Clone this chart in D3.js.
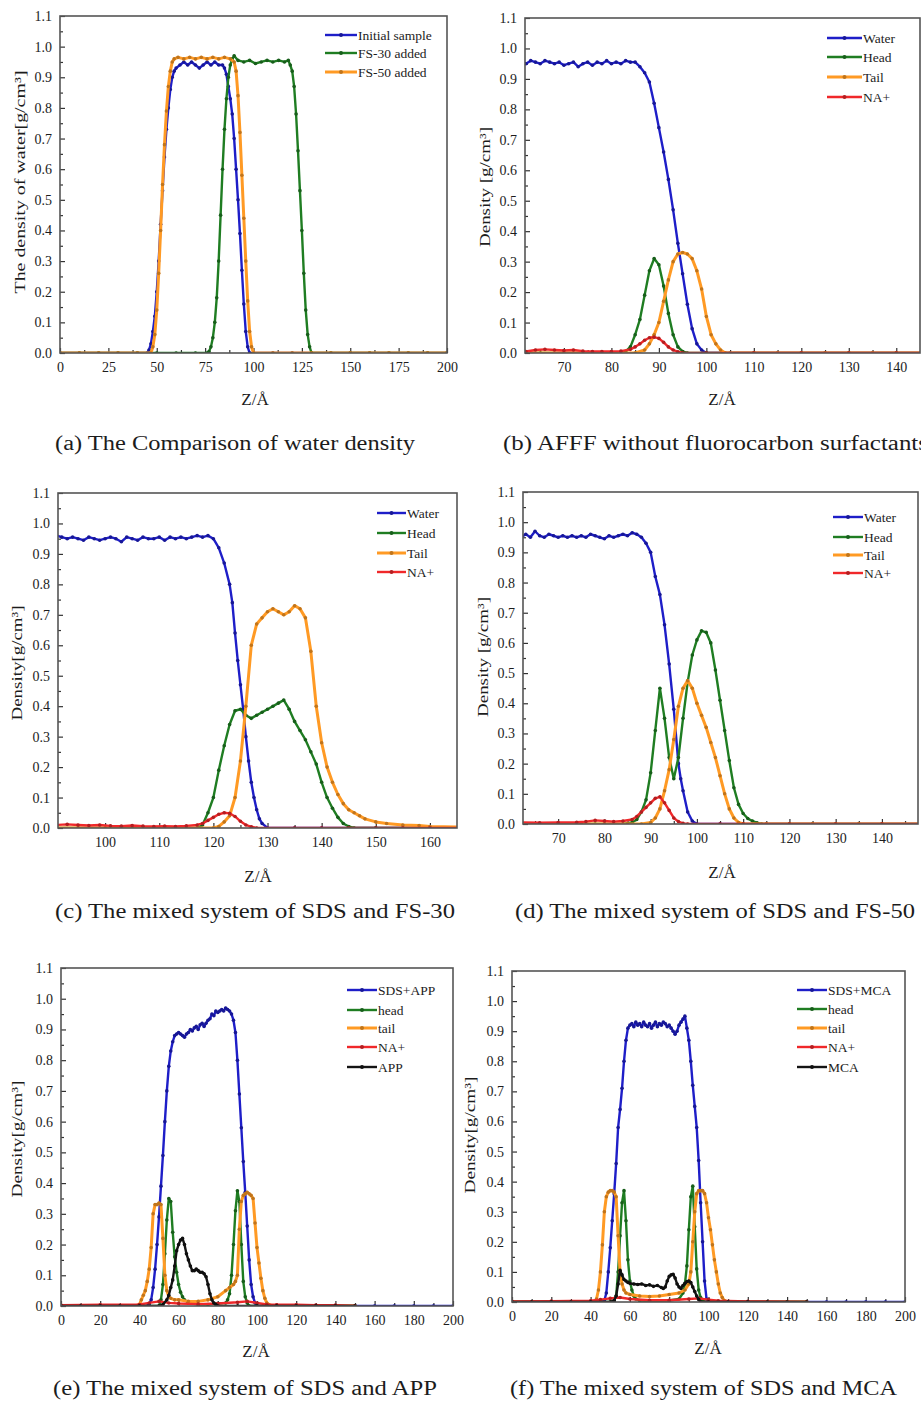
<!DOCTYPE html>
<html>
<head>
<meta charset="utf-8">
<script src="https://cdn.jsdelivr.net/npm/d3@7"></script>
<style>
body{margin:0;background:#fff}
text{font-family:"Liberation Serif","Times New Roman",serif;fill:#1c1c1c}
</style>
</head>
<body>
<svg width="921" height="1408"></svg>
<script>
// ---- tick values
const yTicks = [0,0.1,0.2,0.3,0.4,0.5,0.6,0.7,0.8,0.9,1.0,1.1]
const ticksA = [0,25,50,75,100,125,150,175,200]
const ticksB = [70,80,90,100,110,120,130,140]
const ticksC = [100,110,120,130,140,150,160]
const ticksD = [70,80,90,100,110,120,130,140]
const ticksE = [0,20,40,60,80,100,120,140,160,180,200]

// ---- legend labels
const labelsA = ["Initial sample","FS-30 added","FS-50 added"]
const labelsBCD = ["Water","Head","Tail","NA+"]
const labelsE = ["SDS+APP","head","tail","NA+","APP"]
const labelsF = ["SDS+MCA","head","tail","NA+","MCA"]

// ---- (a) water density, [Z, density]
const aInitial = [[0,0],[10,0],[20,0],[30,0],[40,0],[45,0],[46,0.01],[47,0.03],[48,0.07],[49,0.12],[50,0.2],[51,0.3],[52,0.42],[53,0.53],[54,0.64],[55,0.73],[56,0.8],[57,0.86],[58,0.9],[59,0.92],[60,0.93],[62,0.94],[64,0.95],[66,0.94],[68,0.95],[70,0.94],[72,0.93],[74,0.94],[76,0.95],[78,0.94],[80,0.95],[82,0.94],[84,0.94],[85,0.93],[86,0.91],[87,0.87],[88,0.83],[89,0.78],[90,0.7],[91,0.6],[92,0.5],[93,0.39],[94,0.27],[95,0.16],[96,0.07],[97,0.02],[98,0],[100,0],[110,0],[120,0],[130,0],[140,0],[150,0],[160,0],[170,0],[180,0],[190,0],[200,0]]
const aFS30 = [[0,0],[10,0],[20,0],[30,0],[40,0],[50,0],[60,0],[70,0],[76,0],[77,0.005],[78,0.02],[79,0.05],[80,0.1],[81,0.18],[82,0.3],[83,0.45],[84,0.6],[85,0.73],[86,0.83],[87,0.9],[88,0.94],[89,0.96],[90,0.97],[92,0.955],[95,0.95],[98,0.955],[101,0.945],[104,0.95],[107,0.955],[110,0.95],[113,0.955],[116,0.95],[118,0.955],[119,0.94],[120,0.92],[121,0.87],[122,0.78],[123,0.66],[124,0.53],[125,0.4],[126,0.26],[127,0.14],[128,0.06],[129,0.02],[130,0],[140,0],[150,0],[160,0],[170,0],[180,0],[190,0],[200,0]]
const aFS50 = [[0,0],[10,0],[20,0],[30,0],[40,0],[47,0],[48,0.02],[49,0.06],[50,0.14],[51,0.26],[52,0.4],[53,0.55],[54,0.68],[55,0.79],[56,0.87],[57,0.92],[58,0.95],[59,0.96],[61,0.965],[64,0.96],[67,0.965],[70,0.96],[73,0.965],[76,0.96],[79,0.965],[82,0.96],[85,0.965],[88,0.96],[90,0.95],[91,0.92],[92,0.84],[93,0.72],[94,0.58],[95,0.44],[96,0.3],[97,0.17],[98,0.07],[99,0.02],[100,0],[110,0],[120,0],[130,0],[140,0],[150,0],[160,0],[170,0],[180,0],[190,0],[200,0]]

// ---- (b) AFFF without fluorocarbon surfactants
const bWater = [[61,0.95],[62,0.95],[63,0.96],[64,0.955],[65,0.95],[66,0.96],[67,0.955],[68,0.95],[69,0.955],[70,0.945],[71,0.95],[72,0.955],[73,0.94],[74,0.95],[75,0.955],[76,0.945],[77,0.955],[78,0.95],[79,0.96],[80,0.95],[81,0.955],[82,0.95],[83,0.96],[84,0.955],[85,0.955],[86,0.94],[87,0.92],[88,0.89],[89,0.82],[90,0.74],[91,0.66],[92,0.57],[93,0.47],[94,0.36],[95,0.26],[96,0.16],[97,0.08],[98,0.03],[99,0.01],[100,0],[105,0],[110,0],[115,0],[120,0],[125,0],[130,0],[135,0],[140,0],[146,0]]
const bHead = [[61,0],[65,0],[70,0],[75,0],[80,0],[83,0.005],[84,0.02],[85,0.06],[86,0.11],[87,0.19],[88,0.27],[89,0.31],[90,0.29],[91,0.22],[92,0.13],[93,0.06],[94,0.02],[95,0.005],[96,0],[100,0],[110,0],[120,0],[130,0],[140,0],[146,0]]
const bTail = [[61,0],[70,0],[80,0],[85,0],[87,0.01],[88,0.03],[89,0.06],[90,0.1],[91,0.17],[92,0.24],[93,0.3],[94,0.325],[95,0.33],[96,0.325],[97,0.31],[98,0.27],[99,0.21],[100,0.12],[101,0.06],[102,0.03],[103,0.01],[104,0],[110,0],[115,0],[120,0],[125,0],[130,0],[135,0],[140,0],[146,0]]
const bNa = [[61,0.005],[62,0.005],[64,0.01],[66,0.012],[68,0.01],[70,0.008],[72,0.01],[74,0.006],[76,0.005],[78,0.005],[80,0.005],[82,0.006],[84,0.012],[85,0.02],[86,0.03],[87,0.042],[88,0.05],[89,0.052],[90,0.048],[91,0.035],[92,0.02],[93,0.01],[94,0.004],[95,0],[100,0],[110,0],[120,0],[130,0],[140,0],[146,0]]

// ---- (c) SDS + FS-30
const cWater = [[91,0.96],[92,0.955],[93,0.95],[94,0.955],[95,0.95],[96,0.945],[97,0.955],[98,0.95],[99,0.945],[100,0.95],[101,0.955],[102,0.95],[103,0.94],[104,0.955],[105,0.95],[106,0.945],[107,0.955],[108,0.95],[109,0.95],[110,0.955],[111,0.945],[112,0.955],[113,0.95],[114,0.955],[115,0.95],[116,0.955],[117,0.96],[118,0.955],[119,0.96],[120,0.95],[121,0.92],[122,0.87],[123,0.8],[123.5,0.74],[124,0.64],[124.5,0.55],[125,0.47],[125.5,0.39],[126,0.3],[126.5,0.22],[127,0.15],[127.5,0.1],[128,0.06],[128.5,0.03],[129,0.015],[130,0],[135,0],[140,0],[145,0],[150,0],[155,0],[160,0],[166,0]]
const cHead = [[91,0],[95,0],[100,0],[105,0],[110,0],[115,0],[117,0],[118,0.01],[119,0.05],[120,0.1],[121,0.19],[122,0.27],[123,0.34],[124,0.385],[125,0.39],[126,0.37],[127,0.36],[128,0.37],[129,0.38],[130,0.39],[131,0.4],[132,0.41],[133,0.42],[134,0.39],[135,0.35],[136,0.32],[137,0.29],[138,0.25],[139,0.21],[140,0.15],[141,0.1],[142,0.065],[143,0.035],[144,0.015],[145,0.005],[146,0],[150,0],[155,0],[160,0],[166,0]]
const cTail = [[91,0],[95,0],[100,0],[105,0],[110,0],[115,0],[120,0],[121,0.005],[122,0.02],[123,0.04],[124,0.1],[125,0.22],[126,0.4],[127,0.6],[128,0.67],[129,0.69],[130,0.71],[131,0.72],[132,0.71],[133,0.7],[134,0.71],[135,0.73],[136,0.72],[137,0.69],[138,0.58],[139,0.4],[140,0.28],[141,0.2],[142,0.15],[143,0.11],[144,0.08],[145,0.06],[146,0.05],[147,0.04],[148,0.03],[150,0.02],[152,0.015],[155,0.01],[158,0.008],[160,0.005],[166,0.003]]
const cNa = [[91,0.01],[93,0.012],[95,0.01],[97,0.008],[99,0.01],[101,0.007],[103,0.006],[105,0.008],[107,0.006],[109,0.005],[111,0.006],[113,0.005],[115,0.007],[117,0.01],[118,0.015],[119,0.025],[120,0.035],[121,0.045],[122,0.05],[123,0.048],[124,0.038],[125,0.022],[126,0.01],[127,0.004],[128,0],[135,0],[140,0],[145,0],[150,0],[155,0],[160,0],[166,0]]

// ---- (d) SDS + FS-50
const dWater = [[62,0.95],[63,0.96],[64,0.95],[65,0.97],[66,0.955],[67,0.95],[68,0.96],[69,0.955],[70,0.95],[71,0.955],[72,0.95],[73,0.955],[74,0.95],[75,0.955],[76,0.95],[77,0.96],[78,0.955],[79,0.95],[80,0.945],[81,0.955],[82,0.95],[83,0.955],[84,0.96],[85,0.955],[86,0.965],[87,0.96],[88,0.95],[89,0.93],[90,0.9],[91,0.82],[92,0.76],[93,0.66],[94,0.53],[95,0.38],[96,0.2],[96.5,0.15],[97,0.11],[98,0.04],[99,0.01],[100,0],[105,0],[110,0],[115,0],[120,0],[125,0],[130,0],[135,0],[140,0],[149,0]]
const dHead = [[62,0],[66,0],[70,0],[74,0],[78,0],[82,0],[84,0],[86,0.005],[87,0.015],[88,0.04],[89,0.08],[90,0.17],[91,0.31],[92,0.45],[93,0.35],[94,0.22],[95,0.15],[96,0.22],[97,0.35],[98,0.47],[99,0.56],[100,0.61],[101,0.64],[102,0.635],[103,0.6],[104,0.51],[105,0.41],[106,0.31],[107,0.21],[108,0.12],[109,0.065],[110,0.035],[111,0.018],[112,0.01],[113,0.004],[114,0],[120,0],[125,0],[130,0],[135,0],[140,0],[149,0]]
const dTail = [[62,0],[66,0],[70,0],[75,0],[80,0],[85,0],[88,0],[90,0.005],[91,0.02],[92,0.05],[93,0.11],[94,0.18],[95,0.28],[96,0.39],[97,0.45],[98,0.475],[99,0.45],[100,0.4],[101,0.36],[102,0.32],[103,0.27],[104,0.22],[105,0.16],[106,0.1],[107,0.05],[108,0.02],[109,0.005],[110,0],[115,0],[120,0],[125,0],[130,0],[135,0],[140,0],[149,0]]
const dNa = [[62,0.005],[66,0.004],[70,0.005],[74,0.006],[76,0.008],[78,0.012],[80,0.01],[82,0.008],[84,0.01],[86,0.015],[87,0.025],[88,0.04],[89,0.055],[90,0.07],[91,0.085],[92,0.09],[93,0.07],[94,0.045],[95,0.02],[96,0.008],[97,0.002],[98,0],[105,0],[110,0],[120,0],[130,0],[140,0],[149,0]]

// ---- (e) SDS + APP
const eMix = [[0,0],[10,0],[20,0],[30,0],[40,0],[44,0],[45,0.005],[46,0.02],[47,0.06],[48,0.12],[49,0.2],[50,0.29],[51,0.39],[52,0.49],[53,0.6],[54,0.7],[55,0.78],[56,0.83],[57,0.86],[58,0.88],[59,0.885],[60,0.89],[61,0.885],[62,0.88],[63,0.875],[64,0.885],[65,0.89],[66,0.9],[67,0.895],[68,0.905],[69,0.91],[70,0.9],[71,0.915],[72,0.92],[73,0.91],[74,0.92],[75,0.93],[76,0.935],[77,0.95],[78,0.945],[79,0.96],[80,0.955],[81,0.96],[82,0.965],[83,0.96],[84,0.97],[85,0.965],[86,0.96],[87,0.95],[88,0.93],[89,0.89],[90,0.8],[91,0.69],[92,0.58],[93,0.47],[94,0.37],[95,0.26],[96,0.15],[97,0.07],[98,0.03],[99,0.01],[100,0],[110,0],[120,0],[130,0],[140,0],[150,0],[160,0],[170,0],[180,0],[190,0],[200,0]]
const eHead = [[0,0],[10,0],[20,0],[30,0],[40,0],[50,0],[51,0.02],[52,0.07],[53,0.17],[54,0.28],[55,0.35],[56,0.34],[57,0.24],[58,0.16],[59,0.11],[60,0.07],[61,0.045],[62,0.03],[63,0.02],[65,0.01],[70,0.005],[75,0.005],[80,0.008],[84,0.01],[85,0.02],[86,0.04],[87,0.1],[88,0.2],[89,0.31],[90,0.375],[91,0.34],[92,0.2],[93,0.08],[94,0.03],[95,0.01],[96,0],[100,0],[110,0],[120,0],[130,0],[140,0],[150,0]]
const eTail = [[0,0],[10,0],[20,0],[30,0],[38,0],[40,0.005],[41,0.02],[42,0.035],[43,0.05],[44,0.08],[45,0.12],[46,0.19],[47,0.3],[48,0.33],[49,0.33],[50,0.335],[51,0.33],[52,0.22],[53,0.1],[54,0.05],[55,0.03],[56,0.025],[58,0.02],[60,0.02],[65,0.015],[70,0.015],[75,0.02],[80,0.03],[84,0.05],[86,0.06],[88,0.07],[89,0.08],[90,0.1],[91,0.25],[92,0.34],[93,0.36],[94,0.365],[95,0.37],[96,0.365],[97,0.36],[98,0.35],[99,0.27],[100,0.19],[101,0.14],[102,0.09],[103,0.05],[104,0.025],[105,0.01],[106,0.005],[108,0],[120,0],[130,0],[140,0],[150,0]]
const eNa = [[0,0.003],[20,0.004],[40,0.005],[45,0.01],[50,0.015],[55,0.01],[60,0.008],[70,0.006],[80,0.008],[90,0.012],[95,0.015],[100,0.01],[105,0.005],[110,0.004],[120,0.004],[130,0.003],[140,0.003],[150,0]]
const eAPP = [[0,0],[10,0],[20,0],[30,0],[40,0],[50,0],[52,0.005],[54,0.02],[55,0.035],[56,0.06],[57,0.085],[58,0.13],[59,0.18],[60,0.2],[61,0.215],[62,0.22],[63,0.2],[64,0.17],[65,0.15],[66,0.13],[67,0.115],[68,0.115],[69,0.12],[70,0.115],[71,0.11],[72,0.11],[73,0.105],[74,0.095],[75,0.07],[76,0.04],[77,0.02],[78,0.01],[79,0.005],[80,0],[90,0],[100,0],[110,0],[120,0],[130,0],[140,0],[150,0]]

// ---- (f) SDS + MCA
const fMix = [[0,0],[10,0],[20,0],[30,0],[40,0],[46,0],[47,0.005],[48,0.03],[49,0.1],[50,0.18],[51,0.27],[52,0.36],[53,0.46],[54,0.58],[55,0.64],[56,0.71],[57,0.8],[58,0.87],[59,0.91],[60,0.92],[61,0.925],[62,0.915],[63,0.93],[64,0.92],[65,0.925],[66,0.915],[67,0.93],[68,0.92],[69,0.915],[70,0.925],[71,0.91],[72,0.92],[73,0.93],[74,0.915],[75,0.925],[76,0.92],[77,0.93],[78,0.925],[79,0.915],[80,0.92],[81,0.91],[82,0.9],[83,0.89],[84,0.9],[85,0.92],[86,0.93],[87,0.94],[88,0.95],[89,0.91],[90,0.87],[91,0.8],[92,0.72],[93,0.65],[94,0.58],[95,0.47],[96,0.33],[97,0.2],[98,0.07],[99,0.01],[100,0],[110,0],[120,0],[130,0],[140,0],[150,0],[160,0],[170,0],[180,0],[190,0],[200,0]]
const fHead = [[0,0],[10,0],[20,0],[30,0],[40,0],[50,0],[52,0.005],[53,0.02],[54,0.1],[55,0.22],[56,0.33],[57,0.37],[58,0.27],[59,0.14],[60,0.07],[61,0.04],[62,0.02],[63,0.01],[65,0.005],[70,0.003],[80,0.005],[85,0.01],[87,0.03],[88,0.06],[89,0.12],[90,0.24],[91,0.35],[92,0.385],[93,0.25],[94,0.11],[95,0.04],[96,0.015],[97,0.005],[98,0],[110,0],[120,0],[130,0],[140,0],[150,0]]
const fTail = [[0,0],[10,0],[20,0],[30,0],[40,0],[42,0],[43,0.01],[44,0.04],[45,0.1],[46,0.19],[47,0.3],[48,0.35],[49,0.365],[50,0.37],[51,0.37],[52,0.365],[53,0.35],[54,0.22],[55,0.1],[56,0.06],[57,0.04],[58,0.03],[60,0.025],[65,0.02],[70,0.018],[75,0.02],[80,0.025],[85,0.03],[88,0.04],[90,0.06],[91,0.1],[92,0.2],[93,0.3],[94,0.36],[95,0.37],[96,0.37],[97,0.37],[98,0.36],[99,0.33],[100,0.28],[101,0.24],[102,0.19],[103,0.14],[104,0.1],[105,0.06],[106,0.03],[107,0.015],[108,0.005],[110,0],[120,0],[130,0],[140,0],[150,0]]
const fNa = [[0,0.002],[20,0.003],[40,0.004],[45,0.008],[50,0.012],[55,0.015],[60,0.01],[70,0.006],[80,0.006],[90,0.01],[95,0.012],[100,0.008],[105,0.004],[120,0.002],[150,0]]
const fMCA = [[0,0],[10,0],[20,0],[30,0],[40,0],[50,0],[52,0.005],[53,0.02],[54,0.06],[55,0.105],[56,0.09],[57,0.075],[58,0.07],[59,0.065],[60,0.062],[62,0.06],[64,0.058],[66,0.06],[68,0.055],[70,0.057],[72,0.052],[74,0.055],[76,0.048],[77,0.045],[78,0.05],[79,0.07],[80,0.085],[81,0.09],[82,0.092],[83,0.08],[84,0.06],[85,0.05],[86,0.045],[87,0.055],[88,0.062],[89,0.068],[90,0.07],[91,0.065],[92,0.05],[93,0.035],[94,0.02],[95,0.008],[96,0],[100,0],[110,0],[120,0],[130,0],[140,0],[150,0]]

const blue = "#1e1ec8", green = "#1f7d22", orange = "#ff9a24", red = "#f0282a", black = "#141414"

const panels = [
  {id:"a", box:[60,16,447,353], xDomain:[0,200], xTicks:ticksA,
   ytitle:"The density of water[g/cm³]", yt:[20,182,223],
   xt:[255,405], cap:"(a) The Comparison of water density", capPos:[55,450,360],
   leg:[325,357,[35,53,72]],
   series:[{d:aInitial,c:blue},{d:aFS30,c:green},{d:aFS50,c:orange,w:3}], labels:labelsA},
  {id:"b", box:[525,18,920,353], xDomain:[61.8,145], xTicks:ticksB,
   ytitle:"Density [g/cm³]", yt:[485,187,120],
   xt:[722,405], cap:"(b) AFFF without fluorocarbon surfactants", capPos:[503,450,425],
   leg:[827,862,[38,57,77,97]],
   series:[{d:bWater,c:blue},{d:bHead,c:green},{d:bTail,c:orange,w:3},{d:bNa,c:red}], labels:labelsBCD},
  {id:"c", box:[58,493,457,828], xDomain:[91.3,165], xTicks:ticksC,
   ytitle:"Density[g/cm³]", yt:[17,663,115],
   xt:[258,882], cap:"(c) The mixed system of SDS and FS-30", capPos:[55,918,400],
   leg:[377,406,[513,533,553,572]],
   series:[{d:cWater,c:blue},{d:cHead,c:green},{d:cTail,c:orange,w:3},{d:cNa,c:red}], labels:labelsBCD},
  {id:"d", box:[523,492,918,824], xDomain:[62.4,147.8], xTicks:ticksD,
   ytitle:"Density [g/cm³]", yt:[483,657,120],
   xt:[722,878], cap:"(d) The mixed system of SDS and FS-50", capPos:[515,918,400],
   leg:[833,863,[517,537,555,573]],
   series:[{d:dWater,c:blue},{d:dHead,c:green},{d:dTail,c:orange,w:3},{d:dNa,c:red}], labels:labelsBCD},
  {id:"e", box:[61,968,453,1306], xDomain:[0,200], xTicks:ticksE,
   ytitle:"Density[g/cm³]", yt:[17,1139,117],
   xt:[256,1357], cap:"(e) The mixed system of SDS and APP", capPos:[53,1395,384],
   leg:[347,377,[990,1010,1028,1047,1067]],
   series:[{d:eMix,c:blue},{d:eHead,c:green},{d:eTail,c:orange,w:3},{d:eNa,c:red},{d:eAPP,c:black}], labels:labelsE},
  {id:"f", box:[512,971,905,1302], xDomain:[0,200], xTicks:ticksE,
   ytitle:"Density[g/cm³]", yt:[470,1135,117],
   xt:[708,1354], cap:"(f) The mixed system of SDS and MCA", capPos:[510,1395,387],
   leg:[797,827,[990,1009,1028,1047,1067]],
   series:[{d:fMix,c:blue},{d:fHead,c:green},{d:fTail,c:orange,w:3},{d:fNa,c:red},{d:fMCA,c:black}], labels:labelsF}
]

const svg = d3.select("svg")

function drawPanel(p){
  let w = p.box[2]-p.box[0]
  let h = p.box[3]-p.box[1]
  let g = svg.append("g").attr("transform","translate("+p.box[0]+","+p.box[1]+")")
  let x = d3.scaleLinear().domain(p.xDomain).range([0,w])
  let y = d3.scaleLinear().domain([0,1.1]).range([h,0])

  g.append("clipPath").attr("id","clip"+p.id)
    .append("rect").attr("width",w).attr("height",h)

  // minor ticks halfway between majors
  let step = p.xTicks[1]-p.xTicks[0]
  let xMinor = d3.range(p.xTicks[0]-step/2, p.xTicks[p.xTicks.length-1]+step, step)
    .filter(v => v>p.xDomain[0] && v<p.xDomain[1])
  let yMinor = yTicks.slice(0,-1).map(v => v+0.05)

  let gx = g.append("g").attr("transform","translate(0,"+h+")")
    .call(d3.axisBottom(x).tickValues(p.xTicks).tickSize(-5).tickPadding(9).tickFormat(d3.format("d")))
  g.append("g").attr("transform","translate(0,"+h+")")
    .call(d3.axisBottom(x).tickValues(xMinor).tickSize(-3).tickFormat(""))
  let gy = g.append("g")
    .call(d3.axisLeft(y).tickValues(yTicks).tickSize(-5).tickPadding(8).tickFormat(d3.format(".1f")))
  g.append("g")
    .call(d3.axisLeft(y).tickValues(yMinor).tickSize(-3).tickFormat(""))
  g.selectAll(".domain").remove()
  g.selectAll(".tick line").attr("stroke","#333").attr("stroke-width",1.2)
  g.selectAll("g").attr("font-family",null).attr("font-size",null)
  gx.selectAll("text").style("font-size","14px")
  gy.selectAll("text").style("font-size","14px")

  // series
  let line = d3.line().x(d => x(d[0])).y(d => y(d[1]))
  let plot = g.append("g").attr("clip-path","url(#clip"+p.id+")")
  p.series.forEach(s => {
    plot.append("path").attr("d",line(s.d))
      .attr("fill","none").attr("stroke",s.c).attr("stroke-width",s.w||2.4)
      .attr("stroke-linejoin","round")
    plot.append("g").selectAll("circle").data(s.d).join("circle")
      .attr("cx",d => x(d[0])).attr("cy",d => y(d[1])).attr("r",1.8)
      .attr("fill",d3.color(s.c).darker(0.8))
  })

  g.append("rect").attr("width",w).attr("height",h)
    .attr("fill","none").attr("stroke","#555").attr("stroke-width",1.6)

  // legend
  let lg = svg.append("g")
  p.series.forEach((s,i) => {
    let ly = p.leg[2][i]
    lg.append("line").attr("x1",p.leg[0]).attr("x2",p.leg[1]).attr("y1",ly).attr("y2",ly)
      .attr("stroke",s.c).attr("stroke-width",s.w||2.4)
    lg.append("circle").attr("cx",(p.leg[0]+p.leg[1])/2).attr("cy",ly).attr("r",2)
      .attr("fill",d3.color(s.c).darker(0.8))
    lg.append("text").attr("x",p.leg[1]+1).attr("y",ly).attr("dy","0.35em")
      .style("font-size","13.5px").text(p.labels[i])
  })

  // titles
  svg.append("text")
    .attr("transform","translate("+p.yt[0]+","+p.yt[1]+") rotate(-90)")
    .attr("text-anchor","middle").attr("dy","0.35em")
    .attr("textLength",p.yt[2]).attr("lengthAdjust","spacingAndGlyphs")
    .style("font-size","15px").text(p.ytitle)
  svg.append("text").attr("x",p.xt[0]).attr("y",p.xt[1])
    .attr("text-anchor","middle").style("font-size","17px").text("Z/Å")
  svg.append("text").attr("x",p.capPos[0]).attr("y",p.capPos[1])
    .attr("textLength",p.capPos[2]).attr("lengthAdjust","spacingAndGlyphs")
    .style("font-size","20px").text(p.cap)
}

panels.forEach(drawPanel)
</script>
</body>
</html>
